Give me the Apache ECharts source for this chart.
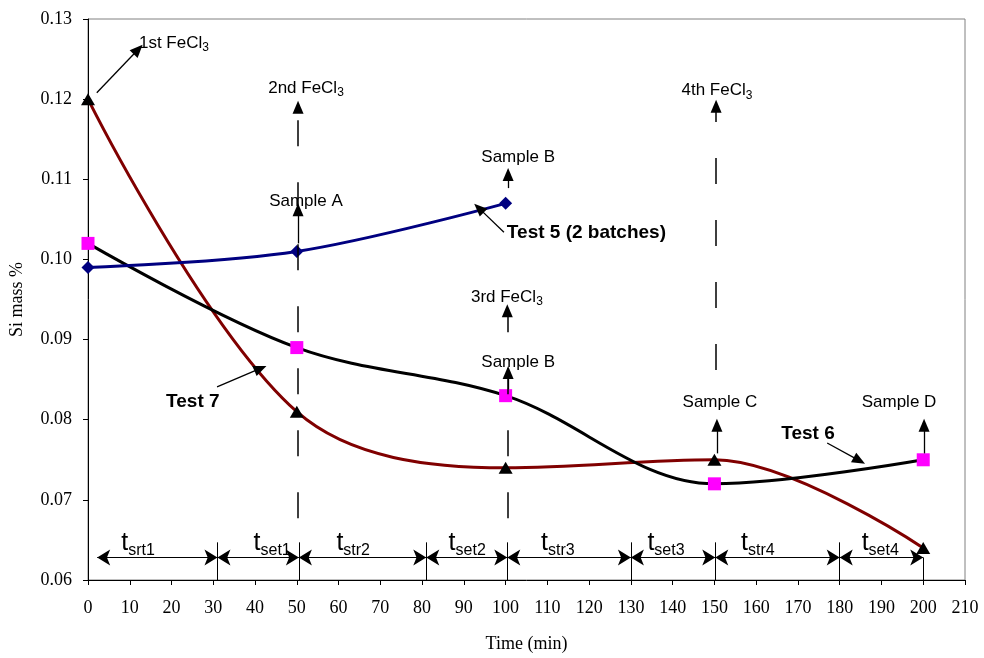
<!DOCTYPE html>
<html>
<head>
<meta charset="utf-8">
<script src="https://cdn.jsdelivr.net/npm/echarts@6/dist/echarts.min.js"></script>
<style>
html,body{margin:0;padding:0;background:#fff;}
#chart{width:984px;height:658px;}
</style>
</head>
<body>
<div id="chart"></div>
<script>
// ---- data ----
const timeMin = [0, 50, 100, 150, 200];
const test5 = [0.099, 0.101, 0.107];
const test6 = [0.102, 0.089, 0.083, 0.072, 0.075];
const test7 = [0.120, 0.081, 0.074, 0.075, 0.064];

// annotation texts: [time, Si, text, anchor]
const notes = [
  [12.2, 0.1270, '1st FeCl{s|3}', 'left'],
  [52.2, 0.1214, '2nd FeCl{s|3}', 'center'],
  [52.2, 0.1072, 'Sample A', 'center'],
  [103.0, 0.1128, 'Sample B', 'center'],
  [100.3, 0.1033, '{b|Test 5 (2 batches)}', 'left'],
  [100.3, 0.0953, '3rd FeCl{s|3}', 'center'],
  [103.0, 0.0872, 'Sample B', 'center'],
  [150.6, 0.1211, '4th FeCl{s|3}', 'center'],
  [151.3, 0.0822, 'Sample C', 'center'],
  [194.2, 0.0822, 'Sample D', 'center'],
  [172.4, 0.0783, '{b|Test 6}', 'center'],
  [25.1, 0.0822, '{b|Test 7}', 'center']
];
// solid arrows: [t1, v1, t2, v2] (arrow head at second point)
const arrows = [
  [2.1, 0.1208, 12.0, 0.1262],
  [50.3, 0.1020, 50.3, 0.1062],
  [100.6, 0.1089, 100.6, 0.1106],
  [100.6, 0.0838, 100.6, 0.0859],
  [150.6, 0.0758, 150.6, 0.0793],
  [200.2, 0.0758, 200.2, 0.0793],
  [99.6, 0.1034, 93.6, 0.1064],
  [30.9, 0.0841, 41.3, 0.0864],
  [177.0, 0.0771, 184.7, 0.0749]
];
// dashed FeCl3 dosing arrows
const dashedArrows = [
  [50.3, 0.0677, 50.3, 0.1190],
  [100.4, 0.0677, 100.4, 0.0936],
  [150.4, 0.0862, 150.4, 0.1191]
];
// stirring / settling periods
const periodBounds = [2.2, 31, 50.5, 81, 100.4, 130, 150.2, 180, 200];
const periodNames = ['srt1', 'set1', 'str2', 'set2', 'str3', 'set3', 'str4', 'set4'];
const periodLabelX = [12.0, 44.1, 63.5, 90.8, 112.5, 138.4, 160.4, 189.7];
const periodArrowY = 0.0628;
const periodLabelY = 0.0646;
const separatorTop = 0.0647;

// ---- chart ----
const serif = 'Liberation Serif';
const sans = 'Liberation Sans';
const chart = echarts.init(document.getElementById('chart'));

const pair = (a) => [{coord: [a[0], a[1]]}, {coord: [a[2], a[3]]}];

const noteData = notes.map(n => ({
  value: [n[0], n[1]],
  label: {formatter: n[2], align: n[3]}
}));
const periodData = periodNames.map((p, i) => ({
  value: [periodLabelX[i], periodLabelY],
  label: {formatter: '{t|t}{ts|' + p + '}', align: 'center'}
}));

const separators = periodBounds.slice(1).map((b, i) =>
  [{coord: [b, 0.06]}, {coord: [b, i === periodBounds.length - 2 ? periodArrowY : separatorTop]}]);
const periodArrows = periodNames.map((p, i) =>
  [{coord: [periodBounds[i], periodArrowY]}, {coord: [periodBounds[i + 1], periodArrowY]}]);

const richStyles = {
  s: {fontFamily: sans, fontSize: 12, lineHeight: 12, verticalAlign: 'bottom', color: '#000'},
  b: {fontFamily: sans, fontSize: 19, fontWeight: 'bold', lineHeight: 22, color: '#000'},
  t: {fontFamily: sans, fontSize: 25, lineHeight: 30, color: '#000'},
  ts: {fontFamily: sans, fontSize: 16, lineHeight: 14, verticalAlign: 'bottom', color: '#000'}
};

chart.setOption({
  animation: false,
  backgroundColor: '#fff',
  grid: {left: 88, right: 19, top: 19, bottom: 78, show: true, borderColor: '#808080', borderWidth: 1},
  xAxis: {
    type: 'value', min: 0, max: 210, interval: 10,
    axisLine: {lineStyle: {color: '#000', width: 1}},
    axisTick: {length: 5, lineStyle: {color: '#000'}},
    axisLabel: {fontFamily: serif, fontSize: 18, color: '#000', margin: 19},
    splitLine: {show: false},
    name: 'Time (min)', nameLocation: 'middle', nameGap: 55,
    nameTextStyle: {fontFamily: serif, fontSize: 18, color: '#000'}
  },
  yAxis: {
    type: 'value', min: 0.06, max: 0.13, interval: 0.01,
    axisLine: {show: true, lineStyle: {color: '#000', width: 1}},
    axisTick: {show: true, length: 5, lineStyle: {color: '#000'}},
    axisLabel: {fontFamily: serif, fontSize: 18, color: '#000', margin: 16, formatter: v => v.toFixed(2)},
    splitLine: {show: false},
    name: 'Si mass %', nameLocation: 'middle', nameGap: 62,
    nameTextStyle: {fontFamily: serif, fontSize: 18, color: '#000'}
  },
  series: [
    {
      type: 'scatter', name: 'separators', data: [], silent: true,
      markLine: {silent: true, symbol: 'none', label: {show: false},
        lineStyle: {color: '#000', width: 1, type: 'solid'}, data: separators}
    },
    {
      type: 'scatter', name: 'periods', data: [], silent: true,
      markLine: {silent: true, symbol: ['arrow', 'arrow'], symbolSize: [12, 13], label: {show: false},
        lineStyle: {color: '#000', width: 1, type: 'solid'}, data: periodArrows}
    },
    {
      type: 'scatter', name: 'dosing', data: [], silent: true,
      markLine: {silent: true, symbol: ['none', 'triangle'], symbolSize: [11, 13], label: {show: false},
        lineStyle: {color: '#000', width: 1.5, type: [26, 36]}, data: dashedArrows.map(pair)}
    },
    {
      type: 'scatter', name: 'arrows', data: [], silent: true,
      markLine: {silent: true, symbol: ['none', 'triangle'], symbolSize: [11, 13], label: {show: false},
        lineStyle: {color: '#000', width: 1.3, type: 'solid'}, data: arrows.map(pair)}
    },
    {
      type: 'line', name: 'Test 7', smooth: 0.35, z: 4,
      data: timeMin.map((t, i) => [t, test7[i]]),
      lineStyle: {color: '#800000', width: 3},
      symbol: 'triangle', symbolSize: [14, 12],
      itemStyle: {color: '#000'}
    },
    {
      type: 'line', name: 'Test 6', smooth: 0.35, z: 4,
      data: timeMin.map((t, i) => [t, test6[i]]),
      lineStyle: {color: '#000', width: 3},
      symbol: 'rect', symbolSize: 13,
      itemStyle: {color: '#FF00FF'}
    },
    {
      type: 'line', name: 'Test 5', smooth: 0.35, z: 4,
      data: test5.map((v, i) => [timeMin[i], v]),
      lineStyle: {color: '#000080', width: 3},
      symbol: 'diamond', symbolSize: [13, 13],
      itemStyle: {color: '#000080'}
    },
    {
      type: 'scatter', name: 'notes', symbolSize: 0, silent: true, z: 6,
      itemStyle: {opacity: 1},
      data: noteData.concat(periodData),
      label: {show: true, position: [0, 0], verticalAlign: 'middle', opacity: 1,
        fontFamily: sans, fontSize: 17, lineHeight: 22, color: '#000', rich: richStyles}
    }
  ]
});
</script>
</body>
</html>
